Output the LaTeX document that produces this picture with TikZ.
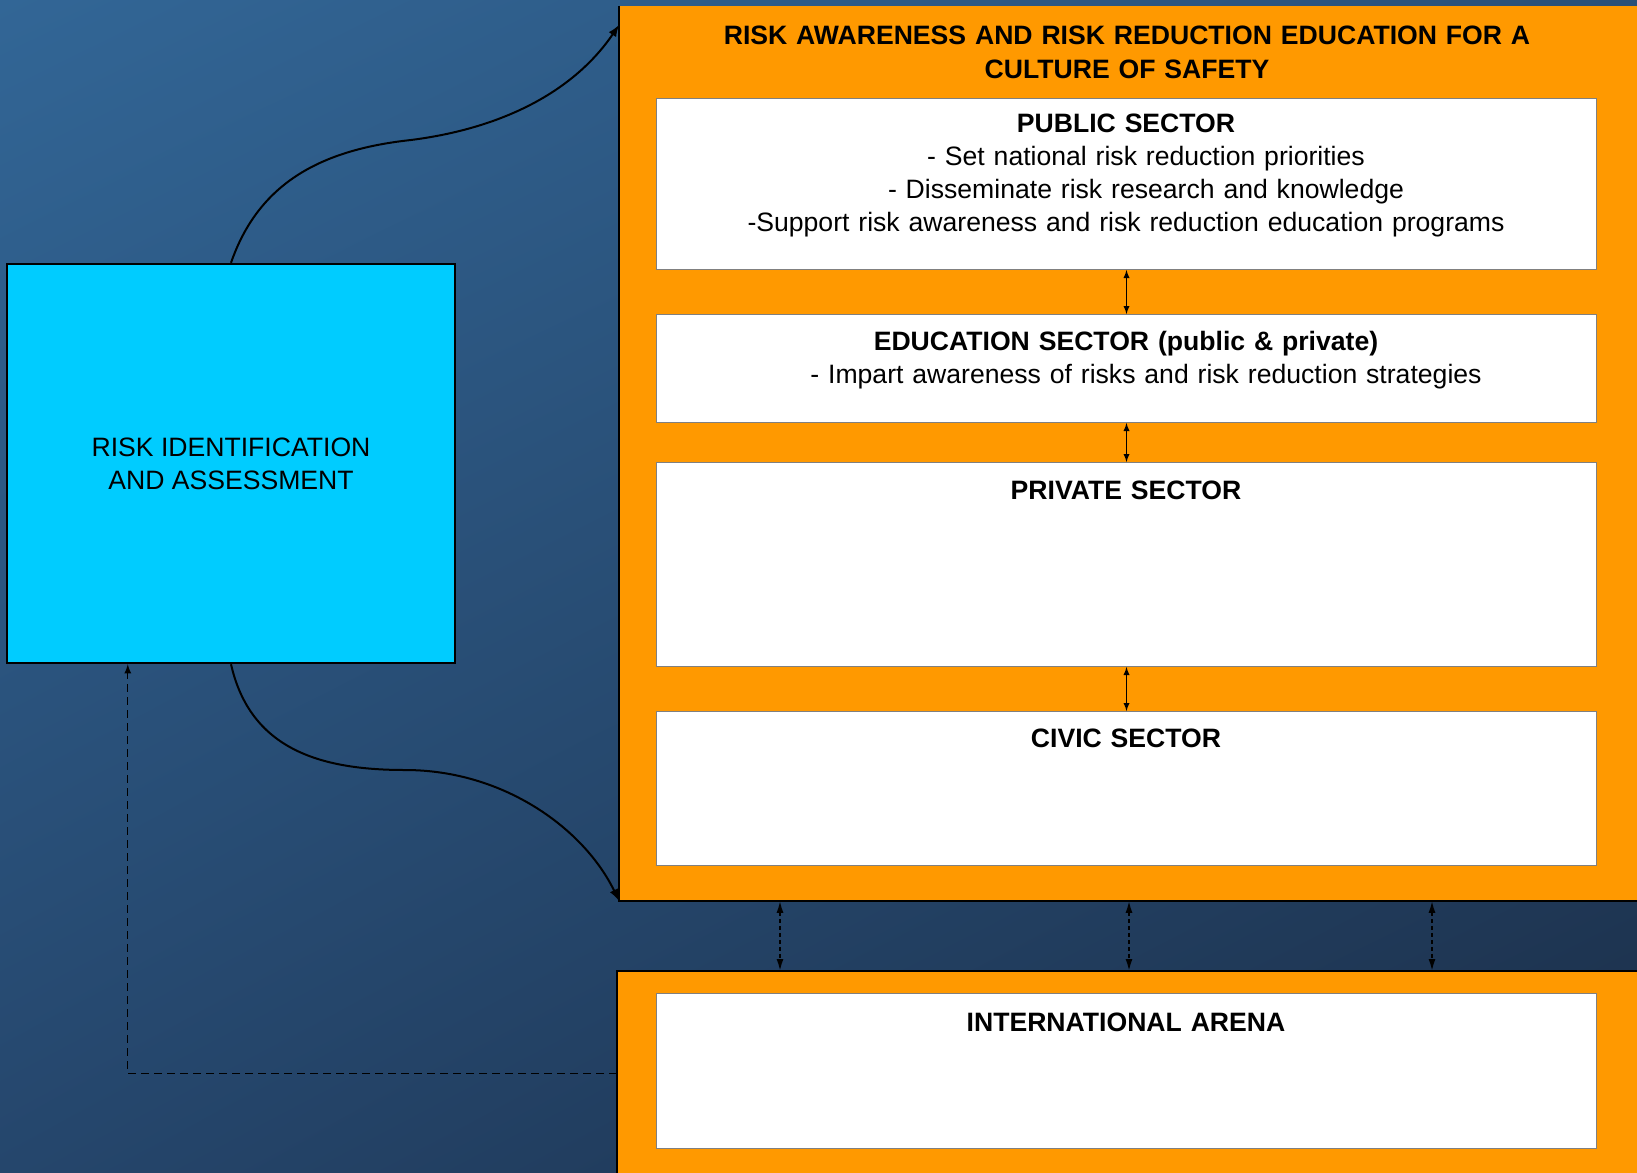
\documentclass[tikz,border=0pt]{standalone}
\usepackage{fontspec}
\setmainfont{Liberation Sans}
\usepackage{xcolor}
\usetikzlibrary{arrows,arrows.meta,shadings}
\definecolor{bgtl}{RGB}{50,102,150}
\definecolor{bgtr}{RGB}{42,80,120}
\definecolor{bgbl}{RGB}{37,70,108}
\definecolor{bgbr}{RGB}{27,46,72}
\definecolor{safety}{RGB}{255,153,0}
\definecolor{riskcyan}{RGB}{0,204,255}
\newcommand{\boxfont}{\fontsize{13.3}{16.5}\selectfont}
\tikzstyle{orangeframe} = [fill=safety, rectangle, anchor=north west,
    inner sep=0, minimum width=520pt]
\tikzstyle{sector} = [draw=gray, fill=white, line width=0.5pt,
    rectangle, anchor=north west, inner sep=0, minimum width=470pt]
\tikzstyle{riskbox} = [draw=black, fill=riskcyan, line width=1.2pt, rectangle,
    minimum width=224pt, minimum height=199.5pt, align=center, font=\boxfont]
\tikzstyle{headline} = [anchor=base, inner sep=0, text width=470pt, align=center,
    font={\fontsize{13.3}{16.7}\selectfont\bfseries}]
\tikzstyle{sectortext} = [anchor=base, inner sep=0, text width=470pt, align=center, font=\boxfont]
\tikzstyle{edge} = [draw=black, line width=1pt]
\tikzstyle{link} = [draw=black, line width=1pt, ->]
\tikzstyle{feedback} = [draw=black, line width=0.6pt, dash pattern=on 4pt off 2.5pt, ->]
\tikzstyle{exchange} = [draw=black, line width=0.9pt, dash pattern=on 2pt off 1.5pt,
    {Latex[length=6pt,width=3.5pt]}-{Latex[length=6pt,width=3.5pt]}]
\tikzstyle{pair} = [draw=black, line width=0.4pt, <->]

\begin{document}
\begin{tikzpicture}[x=0.5pt, y=-0.5pt, >=latex]
\useasboundingbox (0,0) rectangle (1637,1172);
\shade [upper left=bgtl, upper right=bgtr, lower left=bgbl, lower right=bgbr] (0,0) rectangle (1637,1172);

\node [riskbox] (risk) at (231,463.5) {RISK IDENTIFICATION\\AND ASSESSMENT};

\node [orangeframe, minimum height=447pt] (culture) at (619,6) {};
\draw [edge] (culture.north west) -- (culture.south west) -- (culture.south east);
\node [headline] (title) at (1127,45) {RISK AWARENESS AND RISK REDUCTION EDUCATION FOR A\\CULTURE OF SAFETY};

\node [sector, minimum height=85.5pt] (public) at (656,98) {};
\node [sector, minimum height=54pt] (edu) at (656,314) {};
\node [sector, minimum height=102pt] (private) at (656,462) {};
\node [sector, minimum height=77pt] (civic) at (656,711) {};

\node [sectortext] (publictext) at (1126,133) {\textbf{PUBLIC SECTOR}\\
    \hspace*{20pt}- Set national risk reduction priorities\\
    \hspace*{20pt}- Disseminate risk research and knowledge\\
    -Support risk awareness and risk reduction education programs};
\node [sectortext] (edutext) at (1126,350) {\textbf{EDUCATION SECTOR (public \& private)}\\
    \hspace*{20pt}- Impart awareness of risks and risk reduction strategies};
\node [sectortext] (privatetext) at (1126,499) {\textbf{PRIVATE SECTOR}};
\node [sectortext] (civictext) at (1126,747) {\textbf{CIVIC SECTOR}};

\node [orangeframe, minimum height=102pt] (arena) at (617,971) {};
\draw [edge] (arena.south west) -- (arena.north west) -- (arena.north east);
\node [sector, minimum height=77.5pt] (intl) at (656,993) {};
\node [sectortext] (intltext) at (1126,1031) {\textbf{INTERNATIONAL ARENA}};

\draw [pair] (public.south) -- (edu.north);
\draw [pair] (edu.south) -- (private.north);
\draw [pair] (private.south) -- (civic.north);

\foreach \px [count=\i] in {780,1129,1432}{
    \coordinate (k\i) at (\px,0);
    \draw [exchange] (culture.south -| k\i) -- (arena.north -| k\i);
}

\draw [link] (risk.north) .. controls (258,185) and (318,150) .. (411,140)
    .. controls (505,128) and (575,90) .. ([yshift=-9.5pt]culture.north west);
\draw [link] (risk.south) .. controls (250,748) and (318,770) .. (405,770)
    .. controls (505,770) and (585,830) .. (culture.south west);
\draw [feedback] (arena.west) -| ([xshift=61pt]risk.south west);
\end{tikzpicture}
\end{document}
